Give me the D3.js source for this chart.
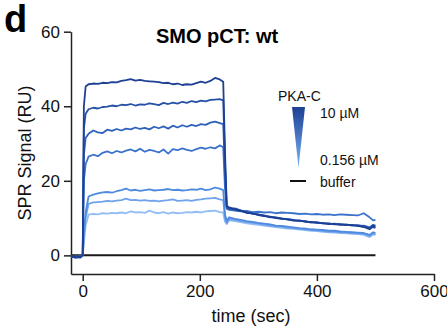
<!DOCTYPE html>
<html><head><meta charset="utf-8">
<script src="https://cdn.jsdelivr.net/npm/d3@7"></script>
<style>html,body{margin:0;padding:0;background:#fff;}svg{display:block;font-family:"Liberation Sans",Arial,sans-serif;}</style>
</head><body>
<svg id="c" width="447" height="330"></svg>
<script>
// time points (sec)
const time = [-20,-12,-4,0,2,5,
  10,18,26,34,42,50,58,66,74,82,90,98,106,114,122,130,138,146,154,162,170,178,186,194,202,210,218,226,234,
  240,243,246,250,
  260,270,280,290,300,310,320,330,340,350,360,370,380,390,400,410,420,430,440,450,460,470,480,490,496,500];

const concLabels = ["10 µM","5 µM","2.5 µM","1.25 µM","0.625 µM","0.313 µM","0.156 µM"];
const colors = ["#1d3f94","#2550a8","#2e60bd","#3a72cc","#4f8ade","#6fa3ec","#93bdf5"];

const s1 = [-0.3,-0.5,-0.4,0.1,40.0,45.3,
  45.9,46.1,46.0,46.3,46.2,46.5,46.4,46.8,47.0,47.3,46.9,47.1,46.8,46.7,46.6,46.5,46.2,46.3,45.9,46.1,45.7,45.9,45.8,46.2,46.6,46.3,46.8,47.6,47.2,
  46.6,28.0,13.2,12.9,
  12.4,12.0,11.5,11.2,10.9,10.6,10.3,10.1,9.9,9.6,9.4,9.3,9.1,8.9,8.8,8.6,8.5,8.4,8.3,8.2,8.1,7.9,7.6,7.0,7.9,7.7];
const s2 = [-0.4,-0.6,-0.3,0.0,34.0,38.0,
  39.2,39.6,39.4,39.8,39.9,40.2,40.0,40.4,40.3,40.6,40.2,40.5,40.4,40.8,40.6,40.3,40.9,40.6,41.0,40.7,41.2,40.9,41.4,41.1,41.5,41.3,41.7,41.8,41.9,
  41.6,25.0,13.0,12.6,
  12.2,11.9,11.4,11.3,10.8,10.5,10.4,10.0,9.8,9.7,9.3,9.4,9.0,9.0,8.7,8.7,8.4,8.5,8.2,8.3,8.0,8.1,7.8,7.3,7.6,7.4];
const s3 = [-0.2,-0.5,-0.5,0.1,27.0,31.5,
  32.6,33.5,33.0,32.8,33.7,33.4,33.9,33.5,34.0,33.8,34.3,33.9,34.2,33.8,34.5,34.1,34.6,34.0,34.8,34.3,34.9,34.5,35.0,34.7,35.2,35.0,35.6,35.9,35.5,
  35.2,22.0,12.8,12.4,
  12.6,12.1,11.7,11.2,11.0,10.7,10.2,10.2,9.8,9.8,9.5,9.2,9.2,8.8,8.9,8.6,8.6,8.3,8.4,8.1,8.2,7.9,8.0,7.5,8.2,8.0];
const s4 = [-0.4,-0.4,-0.6,0.0,20.0,24.5,
  26.5,27.0,26.6,27.5,27.9,27.4,28.0,27.6,28.1,28.4,27.9,28.6,27.8,28.3,28.0,27.6,28.4,27.3,28.5,28.2,28.7,28.3,28.0,28.5,28.9,28.6,29.0,28.7,29.5,
  29.0,18.0,12.5,12.2,
  12.0,11.8,11.9,11.6,11.7,11.5,11.6,11.3,11.5,11.4,11.3,11.1,11.2,11.0,11.1,10.9,11.0,10.8,11.0,10.9,10.8,10.7,11.3,10.2,9.4,9.5];
const s5 = [-0.5,-0.3,-0.4,0.0,6.0,11.5,
  15.8,16.3,16.6,16.9,17.0,16.8,17.2,17.5,17.9,17.4,17.6,17.3,17.5,17.7,17.4,17.5,17.6,17.8,17.5,17.6,17.4,17.5,17.7,17.6,17.9,17.5,17.7,18.2,17.9,
  17.5,11.0,9.2,10.2,
  9.8,9.5,9.2,9.0,8.7,8.5,8.3,8.0,7.9,7.7,7.5,7.3,7.2,7.0,6.9,6.8,6.6,6.6,6.4,6.3,6.2,6.1,6.0,5.5,6.2,6.0];
const s6 = [-0.3,-0.6,-0.4,0.0,5.0,10.0,
  13.8,14.2,14.3,14.4,14.6,14.5,14.7,14.8,15.2,14.8,14.9,14.7,14.8,14.6,14.7,14.5,14.7,14.8,15.0,14.6,14.7,14.8,14.6,14.9,15.0,15.2,15.3,15.4,15.0,
  14.8,10.0,8.6,9.8,
  9.5,9.2,8.9,8.7,8.5,8.2,8.0,7.8,7.7,7.4,7.3,7.1,7.0,6.8,6.7,6.5,6.4,6.3,6.2,6.1,6.0,5.9,5.8,5.2,5.9,5.7];
const s7 = [-0.4,-0.5,-0.3,0.0,3.5,8.0,
  10.9,11.1,11.0,11.3,11.2,11.4,11.3,11.5,11.3,11.8,11.5,11.6,11.4,12.0,11.5,11.3,11.6,11.2,11.5,11.3,11.4,11.6,11.5,11.7,11.5,11.8,11.9,12.0,11.6,
  11.5,9.0,8.4,9.4,
  9.2,8.9,8.6,8.4,8.2,8.0,7.8,7.6,7.4,7.2,7.1,6.9,6.8,6.6,6.5,6.3,6.2,6.1,6.0,5.9,5.8,5.7,5.5,4.9,5.6,5.4];
const seriesValues = [s1,s2,s3,s4,s5,s6,s7];

const bufferTime = [-20, 500];
const bufferValues = [0, 0];

const xTicks = [0,200,400,600];
const yTicks = [0,20,40,60];

const svg = d3.select("#c");
const x = d3.scaleLinear().domain([-20,600]).range([71,434]);
const y = d3.scaleLinear().domain([-5,60]).range([274,31.7]);

// axes
const xAxis = svg.append("g").attr("transform","translate(0,274)")
  .call(d3.axisBottom(x).tickValues(xTicks).tickSize(7).tickSizeOuter(0).tickPadding(4));
const yAxis = svg.append("g").attr("transform","translate(71,0)")
  .call(d3.axisLeft(y).tickValues(yTicks).tickSize(7).tickSizeOuter(0).tickPadding(4));
[xAxis,yAxis].forEach(g=>{
  g.select(".domain").attr("stroke","#222").attr("stroke-width",1.5);
  g.selectAll(".tick line").attr("stroke","#222").attr("stroke-width",1.5);
  g.selectAll(".tick text").attr("font-size",17).attr("fill","#111").attr("font-family","Liberation Sans, Arial, sans-serif");
});

// buffer line
const line = d3.line().x(d=>x(d[0])).y(d=>y(d[1]));
svg.append("path").datum(bufferTime.map((t,i)=>[t,bufferValues[i]]))
  .attr("d",line).attr("fill","none").attr("stroke","#1a1a1a").attr("stroke-width",2);

// series (light first)
for (let k=seriesValues.length-1;k>=0;k--){
  const pts = time.map((t,i)=>[t,seriesValues[k][i]]);
  svg.append("path").datum(pts).attr("d",line)
    .attr("fill","none").attr("stroke",colors[k]).attr("stroke-width",1.8)
    .attr("stroke-linejoin","round");
}

// text
svg.append("text").attr("x",4).attr("y",32).attr("font-size",38).attr("font-weight","bold").attr("fill","#000").text("d");
svg.append("text").attr("x",217).attr("y",43).attr("text-anchor","middle").attr("font-size",20).attr("font-weight","bold").attr("fill","#000").text("SMO pCT: wt");
svg.append("text").attr("x",251).attr("y",322).attr("text-anchor","middle").attr("font-size",18).attr("fill","#111").text("time (sec)");
svg.append("text").attr("transform","translate(31,153) rotate(-90)").attr("text-anchor","middle").attr("font-size",18).attr("fill","#111").text("SPR Signal (RU)");

// legend
const defs = svg.append("defs");
const grad = defs.append("linearGradient").attr("id","wedge").attr("x1",0).attr("y1",0).attr("x2",0).attr("y2",1);
grad.append("stop").attr("offset","0%").attr("stop-color",colors[0]);
grad.append("stop").attr("offset","100%").attr("stop-color","#7ab4f5");
svg.append("text").attr("x",278).attr("y",101).attr("font-size",14).attr("fill","#111").text("PKA-C");
svg.append("path").attr("d","M292,107 L305,107 L298.5,168 Z").attr("fill","url(#wedge)");
svg.append("text").attr("x",320).attr("y",118).attr("font-size",14).attr("fill","#111").text(concLabels[0]);
svg.append("text").attr("x",320).attr("y",165).attr("font-size",14).attr("fill","#111").text(concLabels[concLabels.length-1]);
svg.append("line").attr("x1",290).attr("x2",306).attr("y1",181).attr("y2",181).attr("stroke","#111").attr("stroke-width",2);
svg.append("text").attr("x",320).attr("y",187).attr("font-size",14).attr("fill","#111").text("buffer");
</script>
</body></html>
